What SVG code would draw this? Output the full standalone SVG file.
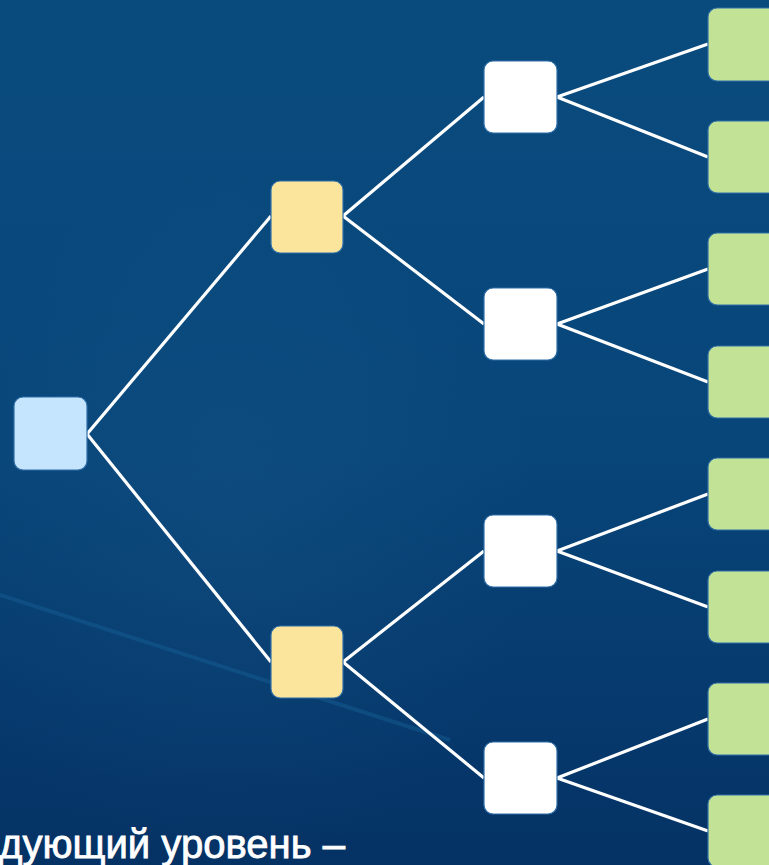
<svg xmlns="http://www.w3.org/2000/svg" width="769" height="865" viewBox="0 0 769 865">
  <defs>
    <linearGradient id="bg" x1="0" y1="0" x2="0" y2="1">
      <stop offset="0" stop-color="#0a4b7e"/>
      <stop offset="0.5" stop-color="#08467a"/>
      <stop offset="1" stop-color="#053265"/>
    </linearGradient>
    <radialGradient id="glow" cx="0.3" cy="0.6" r="0.4">
      <stop offset="0" stop-color="#2a6a9a" stop-opacity="0.18"/>
      <stop offset="1" stop-color="#2a6a9a" stop-opacity="0"/>
    </radialGradient>
    <style>
      .node { stroke: #2f6fa8; stroke-width: 1.2; }
      .root { fill: #c5e4fd; }
      .mid { fill: #fbe59c; }
      .inner { fill: #ffffff; }
      .leaf { fill: #c2e296; }
      .edge { stroke: #ffffff; stroke-width: 3.2; fill: none; }
      .label { font-family: "Liberation Sans Narrow", "Liberation Sans", "DejaVu Sans", sans-serif; font-size: 40px; fill: #ffffff; stroke: #ffffff; stroke-width: 0.8; }
    </style>
  </defs>
  <rect x="0" y="0" width="769" height="865" fill="url(#bg)"/>
  <rect x="0" y="0" width="769" height="865" fill="url(#glow)"/>
  <line x1="0" y1="595" x2="450" y2="740" stroke="#1a6aa0" stroke-opacity="0.35" stroke-width="4"/>

  <g id="connectors">
    <line class="edge" x1="87" y1="434" x2="271" y2="216"/>
    <line class="edge" x1="87" y1="434" x2="271" y2="662"/>
    <line class="edge" x1="343" y1="216" x2="484" y2="97"/>
    <line class="edge" x1="343" y1="216" x2="484" y2="324"/>
    <line class="edge" x1="343" y1="662" x2="484" y2="551"/>
    <line class="edge" x1="343" y1="662" x2="484" y2="778"/>
    <line class="edge" x1="557" y1="97" x2="708" y2="44"/>
    <line class="edge" x1="557" y1="97" x2="708" y2="157"/>
    <line class="edge" x1="557" y1="324" x2="708" y2="269"/>
    <line class="edge" x1="557" y1="324" x2="708" y2="382"/>
    <line class="edge" x1="557" y1="551" x2="708" y2="494"/>
    <line class="edge" x1="557" y1="551" x2="708" y2="607"/>
    <line class="edge" x1="557" y1="778" x2="708" y2="719"/>
    <line class="edge" x1="557" y1="778" x2="708" y2="831"/>
  </g>

  <g id="root"><rect class="node root" x="14" y="397" width="73" height="73" rx="9"/></g>
  <g id="mid1"><rect class="node mid" x="271" y="181" width="72" height="72" rx="9"/></g>
  <g id="mid2"><rect class="node mid" x="271" y="626" width="72" height="72" rx="9"/></g>
  <g id="inner1"><rect class="node inner" x="484" y="61" width="73" height="72" rx="9"/></g>
  <g id="inner2"><rect class="node inner" x="484" y="288" width="73" height="72" rx="9"/></g>
  <g id="inner3"><rect class="node inner" x="484" y="515" width="73" height="72" rx="9"/></g>
  <g id="inner4"><rect class="node inner" x="484" y="742" width="73" height="72" rx="9"/></g>
  <g id="leaf1"><rect class="node leaf" x="708" y="8" width="80" height="73" rx="9"/></g>
  <g id="leaf2"><rect class="node leaf" x="708" y="121" width="80" height="72" rx="9"/></g>
  <g id="leaf3"><rect class="node leaf" x="708" y="233" width="80" height="72" rx="9"/></g>
  <g id="leaf4"><rect class="node leaf" x="708" y="346" width="80" height="72" rx="9"/></g>
  <g id="leaf5"><rect class="node leaf" x="708" y="458" width="80" height="72" rx="9"/></g>
  <g id="leaf6"><rect class="node leaf" x="708" y="571" width="80" height="72" rx="9"/></g>
  <g id="leaf7"><rect class="node leaf" x="708" y="683" width="80" height="72" rx="9"/></g>
  <g id="leaf8"><rect class="node leaf" x="708" y="795" width="80" height="72" rx="9"/></g>

  <text class="label" x="-1" y="858" textLength="346" lengthAdjust="spacingAndGlyphs">дующий уровень –</text>
</svg>
